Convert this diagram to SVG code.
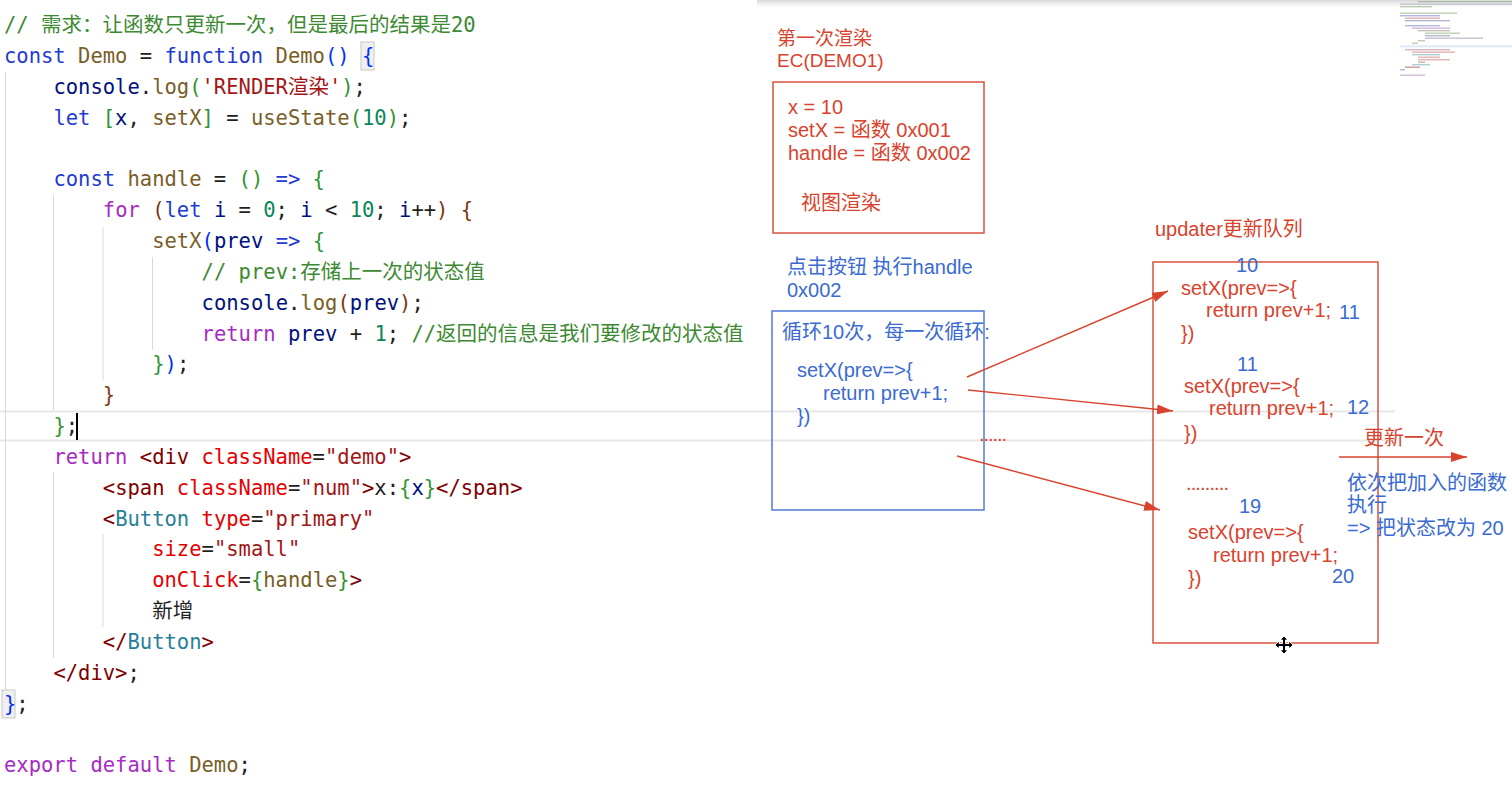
<svg xmlns="http://www.w3.org/2000/svg" width="1512" height="785" viewBox="0 0 1512 785">
<style>
.code{font-family:"DejaVu Sans Mono","Noto Sans CJK SC",monospace;font-size:20.5px;fill:#1e1e1e}
.c{fill:#3d8a33}.k{fill:#1f3bd0}.p{fill:#a62bc4}.f{fill:#795e26}.v{fill:#001080}.n{fill:#098658}.s{fill:#a31515}
.b1{fill:#0431fa}.b2{fill:#319331}.b3{fill:#7b3814}.t{fill:#800000}.a{fill:#e50000}.cl{fill:#267f99}
.guide{stroke:#d9d9d9;stroke-width:1}
.ann{font-family:"Liberation Sans","Noto Sans CJK SC",sans-serif;font-size:20px}
.red{fill:#d9432d}.blue{fill:#3a6bd2}
.rbox{fill:none;stroke:#d9533f;stroke-width:1.5}
.bbox{fill:none;stroke:#4f7bd6;stroke-width:1.5}
.conn{stroke:#d9432d;stroke-width:1.4;fill:none}
.mm{opacity:0.4}
</style>
<defs>
<marker id="ah" viewBox="0 0 16 10" refX="16" refY="5" markerWidth="16" markerHeight="10" markerUnits="userSpaceOnUse" orient="auto">
<path d="M0,0 L16,5 L0,10 z" fill="#d9432d"/>
</marker>
<linearGradient id="shadow" x1="0" y1="0" x2="0" y2="1">
<stop offset="0" stop-color="#d6d6d6"/>
<stop offset="1" stop-color="#ffffff" stop-opacity="0"/>
</linearGradient>
</defs>
<rect x="0" y="0" width="1512" height="785" fill="#ffffff"/>
<rect x="757" y="0" width="755" height="10" fill="url(#shadow)"/>

<g id="editor-bg">
<line x1="0" y1="411.5" x2="1395" y2="411.5" stroke="#e8e8e8" stroke-width="2"/>
<line x1="0" y1="440.5" x2="1395" y2="440.5" stroke="#e8e8e8" stroke-width="2"/>
<rect x="361" y="42" width="13" height="28" fill="#f0f0f0" stroke="#c8c8c8" stroke-width="1"/>
<rect x="2" y="690" width="13" height="28" fill="#f0f0f0" stroke="#c8c8c8" stroke-width="1"/>
<line class="guide" x1="5.5" y1="72" x2="5.5" y2="690"/>
<line class="guide" x1="53.5" y1="195" x2="53.5" y2="410"/>
<line class="guide" x1="103" y1="227" x2="103" y2="380"/>
<line class="guide" x1="152.5" y1="257" x2="152.5" y2="350"/>
<line class="guide" x1="53.5" y1="472" x2="53.5" y2="658"/>
<line class="guide" x1="103" y1="534" x2="103" y2="627"/>
</g>

<g id="code" class="code" xml:space="preserve">
<text x="4" y="32"><tspan class="c">// 需求：让函数只更新一次，但是最后的结果是20</tspan></text>
<text x="4" y="63"><tspan class="k">const</tspan> <tspan class="f">Demo</tspan> = <tspan class="k">function</tspan> <tspan class="f">Demo</tspan><tspan class="b1">() {</tspan></text>
<text x="53.4" y="93.7"><tspan class="v">console</tspan>.<tspan class="f">log</tspan><tspan class="b2">(</tspan><tspan class="s">'RENDER渲染'</tspan><tspan class="b2">)</tspan>;</text>
<text x="53.4" y="124.55"><tspan class="k">let</tspan> <tspan class="b2">[</tspan><tspan class="v">x</tspan>, <tspan class="f">setX</tspan><tspan class="b2">]</tspan> = <tspan class="f">useState</tspan><tspan class="b2">(</tspan><tspan class="n">10</tspan><tspan class="b2">)</tspan>;</text>
<text x="53.4" y="186.25"><tspan class="k">const</tspan> <tspan class="f">handle</tspan> = <tspan class="b2">()</tspan> <tspan class="k">=&gt;</tspan> <tspan class="b2">{</tspan></text>
<text x="102.8" y="217.1"><tspan class="p">for</tspan> <tspan class="b3">(</tspan><tspan class="k">let</tspan> <tspan class="v">i</tspan> = <tspan class="n">0</tspan>; <tspan class="v">i</tspan> &lt; <tspan class="n">10</tspan>; <tspan class="v">i</tspan>++<tspan class="b3">)</tspan> <tspan class="b3">{</tspan></text>
<text x="152.2" y="247.95"><tspan class="f">setX</tspan><tspan class="b1">(</tspan><tspan class="v">prev</tspan> <tspan class="k">=&gt;</tspan> <tspan class="b2">{</tspan></text>
<text x="201.6" y="278.8"><tspan class="c">// prev:存储上一次的状态值</tspan></text>
<text x="201.6" y="309.65"><tspan class="v">console</tspan>.<tspan class="f">log</tspan><tspan class="b3">(</tspan><tspan class="v">prev</tspan><tspan class="b3">)</tspan>;</text>
<text x="201.6" y="340.5"><tspan class="p">return</tspan> <tspan class="v">prev</tspan> + <tspan class="n">1</tspan>; <tspan class="c">//返回的信息是我们要修改的状态值</tspan></text>
<text x="152.2" y="371.35"><tspan class="b2">}</tspan><tspan class="b1">)</tspan>;</text>
<text x="102.8" y="402.2"><tspan class="b3">}</tspan></text>
<text x="53.4" y="433.05"><tspan class="b2">}</tspan>;</text>
<text x="53.4" y="463.9"><tspan class="p">return</tspan> <tspan class="t">&lt;div</tspan> <tspan class="a">className</tspan>=<tspan class="s">"demo"</tspan><tspan class="t">&gt;</tspan></text>
<text x="102.8" y="494.75"><tspan class="t">&lt;span</tspan> <tspan class="a">className</tspan>=<tspan class="s">"num"</tspan><tspan class="t">&gt;</tspan>x:<tspan class="b2">{</tspan><tspan class="v">x</tspan><tspan class="b2">}</tspan><tspan class="t">&lt;/span&gt;</tspan></text>
<text x="102.8" y="525.6"><tspan class="t">&lt;</tspan><tspan class="cl">Button</tspan> <tspan class="a">type</tspan>=<tspan class="s">"primary"</tspan></text>
<text x="152.2" y="556.45"><tspan class="a">size</tspan>=<tspan class="s">"small"</tspan></text>
<text x="152.2" y="587.3"><tspan class="a">onClick</tspan>=<tspan class="b2">{</tspan><tspan class="f">handle</tspan><tspan class="b2">}</tspan><tspan class="t">&gt;</tspan></text>
<text x="152.2" y="618.15">新增</text>
<text x="102.8" y="649"><tspan class="t">&lt;/</tspan><tspan class="cl">Button</tspan><tspan class="t">&gt;</tspan></text>
<text x="53.4" y="679.85"><tspan class="t">&lt;/div&gt;</tspan>;</text>
<text x="4" y="710.7"><tspan class="b1">}</tspan>;</text>
<text x="4" y="772.4"><tspan class="p">export</tspan> <tspan class="p">default</tspan> <tspan class="f">Demo</tspan>;</text>
</g>
<line id="caret" x1="77" y1="413" x2="77" y2="440" stroke="#000" stroke-width="2"/>

<g id="minimap" class="mm">
<rect x="1418" y="1" width="94" height="1.4" fill="#5a8a4a"/>
<rect x="1400" y="3.5" width="112" height="1.4" fill="#7a7a9a"/>
<rect x="1400" y="6" width="32" height="1.4" fill="#5a8a4a"/>
<rect x="1400" y="12.5" width="57" height="1.4" fill="#5a8a4a"/>
<rect x="1400" y="15" width="40" height="1.4" fill="#3a4ac0"/>
<rect x="1405" y="17.5" width="35" height="1.4" fill="#c04040"/>
<rect x="1405" y="20" width="45" height="1.4" fill="#4a4a90"/>
<rect x="1405" y="25" width="35" height="1.4" fill="#3a4ac0"/>
<rect x="1412" y="27.5" width="38" height="1.4" fill="#8a5a9a"/>
<rect x="1418" y="30" width="32" height="1.4" fill="#7a6a4a"/>
<rect x="1425" y="32.5" width="35" height="1.4" fill="#5a8a4a"/>
<rect x="1425" y="35" width="25" height="1.4" fill="#4a4a90"/>
<rect x="1425" y="37.5" width="58" height="1.4" fill="#6a6a8a"/>
<rect x="1418" y="40" width="7" height="1.4" fill="#5a8a4a"/>
<rect x="1412" y="42.5" width="6" height="1.4" fill="#7a6a4a"/>
<rect x="1400" y="45" width="112" height="2.5" fill="#bcd4f0"/>
<rect x="1405" y="49" width="45" height="1.4" fill="#a04070"/>
<rect x="1412" y="51.5" width="43" height="1.4" fill="#c04040"/>
<rect x="1412" y="54" width="28" height="1.4" fill="#3a8a9a"/>
<rect x="1418" y="56.5" width="22" height="1.4" fill="#c04040"/>
<rect x="1418" y="59" width="32" height="1.4" fill="#c04040"/>
<rect x="1418" y="61.5" width="7" height="1.4" fill="#555"/>
<rect x="1412" y="64" width="18" height="1.4" fill="#3a8a9a"/>
<rect x="1405" y="66.5" width="15" height="1.4" fill="#800000"/>
<rect x="1400" y="69" width="5" height="1.4" fill="#3a4ac0"/>
<rect x="1400" y="74.5" width="25" height="1.4" fill="#8a5a9a"/>
</g>

<g id="node-ec-demo1">
<text class="ann red" x="777" y="45" style="font-size:19px">第一次渲染</text>
<text class="ann red" x="777" y="67" style="font-size:19px">EC(DEMO1)</text>
<rect class="rbox" x="773" y="82" width="211" height="151"/>
<text class="ann red" x="788" y="114">x = 10</text>
<text class="ann red" x="788" y="137">setX = 函数 0x001</text>
<text class="ann red" x="788" y="160">handle = 函数 0x002</text>
<text class="ann red" x="801" y="210">视图渲染</text>
</g>

<g id="node-click-handle">
<text class="ann blue" x="787" y="274">点击按钮 执行handle</text>
<text class="ann blue" x="787" y="297">0x002</text>
<rect class="bbox" x="772" y="311" width="212" height="199"/>
<text class="ann blue" x="782" y="339">循环10次，每一次循环:</text>
<text class="ann blue" x="797" y="377">setX(prev=&gt;{</text>
<text class="ann blue" x="823" y="400">return prev+1;</text>
<text class="ann blue" x="797" y="423">})</text>
<text class="ann red" x="979" y="441" textLength="28" lengthAdjust="spacing">......</text>
</g>

<g id="node-updater-queue">
<text class="ann red" x="1155" y="236">updater更新队列</text>
<rect class="rbox" x="1153" y="262" width="225" height="381"/>
<text class="ann blue" x="1236" y="272">10</text>
<text class="ann red" x="1181" y="295">setX(prev=&gt;{</text>
<text class="ann red" x="1206" y="317">return prev+1;</text>
<text class="ann blue" x="1339" y="319">11</text>
<text class="ann red" x="1181" y="340">})</text>
<text class="ann blue" x="1237" y="371">11</text>
<text class="ann red" x="1184" y="393">setX(prev=&gt;{</text>
<text class="ann red" x="1209" y="415">return prev+1;</text>
<text class="ann blue" x="1347" y="414">12</text>
<text class="ann red" x="1184" y="440">})</text>
<text class="ann red" x="1186" y="490" textLength="43" lengthAdjust="spacing">.........</text>
<text class="ann blue" x="1239" y="513">19</text>
<text class="ann red" x="1188" y="539">setX(prev=&gt;{</text>
<text class="ann red" x="1213" y="562">return prev+1;</text>
<text class="ann blue" x="1332" y="583">20</text>
<text class="ann red" x="1188" y="585">})</text>
</g>

<g id="node-update-once">
<text class="ann red" x="1364" y="445">更新一次</text>
<text class="ann blue" x="1347" y="490">依次把加入的函数</text>
<text class="ann blue" x="1347" y="512">执行</text>
<text class="ann blue" x="1347" y="535">=&gt; 把状态改为 20</text>
</g>

<g id="connectors">
<line class="conn" x1="967" y1="377" x2="1168" y2="291" marker-end="url(#ah)"/>
<line class="conn" x1="968" y1="390" x2="1173" y2="411" marker-end="url(#ah)"/>
<line class="conn" x1="957" y1="456" x2="1160" y2="510" marker-end="url(#ah)"/>
<line class="conn" x1="1339" y1="457" x2="1467" y2="457" marker-end="url(#ah)"/>
</g>

<path id="move-cursor" d="M1284,636 l4,4 h-2.5 v3.5 h3.5 v-2.5 l4,4 l-4,4 v-2.5 h-3.5 v3.5 h2.5 l-4,4 l-4,-4 h2.5 v-3.5 h-3.5 v2.5 l-4,-4 l4,-4 v2.5 h3.5 v-3.5 h-2.5 z" fill="#000" stroke="#fff" stroke-width="1"/>
</svg>
